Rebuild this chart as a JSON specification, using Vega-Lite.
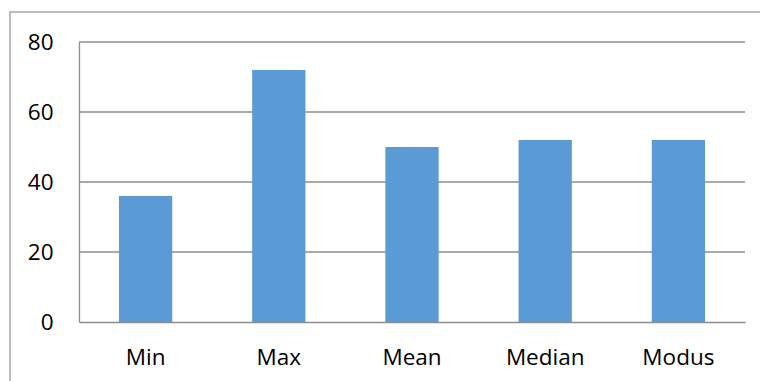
{
  "$schema": "https://vega.github.io/schema/vega-lite/v6.json",
  "autosize": {"type": "none"},
  "padding": {"left": 10, "top": 12, "right": 0, "bottom": 0},
  "width": 770,
  "height": 380,
  "background": "#ffffff",
  "config": {
    "view": {"stroke": "#a6a6a6", "strokeWidth": 1.5},
    "font": "Open Sans"
  },
  "datasets": {
    "stats": [
      {"stat": "Min", "value": 36},
      {"stat": "Max", "value": 72},
      {"stat": "Mean", "value": 50},
      {"stat": "Median", "value": 52},
      {"stat": "Modus", "value": 52}
    ],
    "grid": [
      {"level": 20},
      {"level": 40},
      {"level": 60},
      {"level": 80}
    ]
  },
  "layer": [
    {
      "data": {"name": "grid"},
      "mark": {"type": "rule", "stroke": "#8c8c8c", "strokeWidth": 1.3},
      "encoding": {
        "y": {"field": "level", "type": "quantitative"},
        "x": {"datum": "Min", "type": "nominal", "bandPosition": -0.75},
        "x2": {"datum": "Modus", "bandPosition": 1.75}
      }
    },
    {
      "data": {"name": "stats"},
      "mark": {"type": "bar", "fill": "#5b9bd5"},
      "encoding": {
        "x": {
          "field": "stat",
          "type": "nominal",
          "scale": {
            "domain": ["Min", "Max", "Mean", "Median", "Modus"],
            "range": [69, 735],
            "paddingInner": 0.6,
            "paddingOuter": 0.3
          },
          "axis": {
            "title": null,
            "orient": "bottom",
            "offset": -70,
            "bandPosition": 0.5,
            "labelAngle": 0,
            "labelAlign": "center",
            "ticks": false,
            "tickSize": 0,
            "domain": true,
            "domainColor": "#8c8c8c",
            "domainWidth": 1.3,
            "labelPadding": 35,
            "labelFont": "Open Sans",
            "labelFontSize": 22.5,
            "labelColor": "#000000",
            "grid": false
          }
        },
        "y": {
          "field": "value",
          "type": "quantitative",
          "scale": {"domain": [0, 80], "range": [310, 30], "nice": false},
          "axis": {
            "title": null,
            "values": [0, 20, 40, 60, 80],
            "offset": -69,
            "ticks": false,
            "tickSize": 0,
            "domain": true,
            "domainColor": "#8c8c8c",
            "domainWidth": 1.3,
            "grid": false,
            "labelPadding": 26,
            "labelFont": "Open Sans",
            "labelFontSize": 22.5,
            "labelColor": "#000000"
          }
        }
      }
    }
  ]
}
